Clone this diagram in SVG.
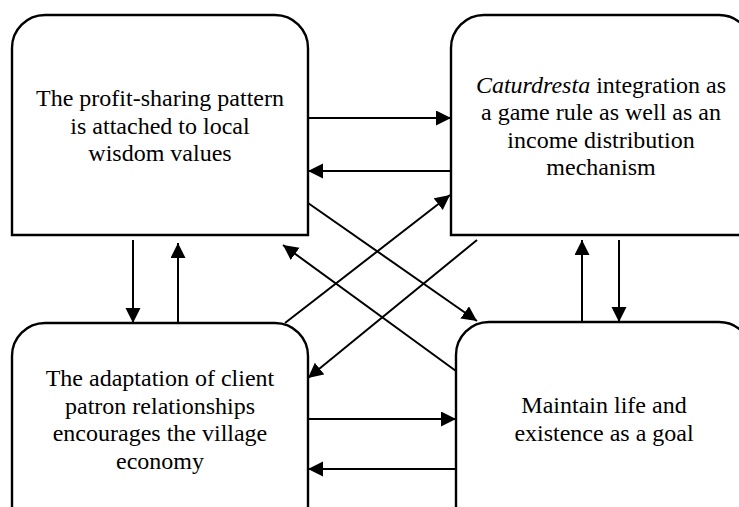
<svg xmlns="http://www.w3.org/2000/svg" width="739" height="507" viewBox="0 0 739 507">
<style>
.box{fill:#fff;stroke:#000;stroke-width:2.4}
.lbl{font-family:'Liberation Serif','Times New Roman',Times,'DejaVu Serif',serif;font-size:24px;fill:#000;text-anchor:middle}
.con line{stroke:#000;stroke-width:2;marker-end:url(#ah)}
</style>
<defs>
<marker id="ah" markerUnits="userSpaceOnUse" markerWidth="16" markerHeight="16" refX="15" refY="7.5" orient="auto">
<path d="M0,0 L15,7.5 L0,15 Z" fill="#000"/>
</marker>
</defs>
<rect width="739" height="507" fill="#fff"/>
<g id="n1">
<path class="box" d="M12,235 V48 A33,33 0 0 1 45,15 H275 A33,33 0 0 1 308,48 V235 Z"/>
<text class="lbl" font-family="Liberation Serif, serif"><tspan x="160" y="106">The profit-sharing pattern</tspan><tspan x="160" y="133.5">is attached to local</tspan><tspan x="160" y="161">wisdom values</tspan></text>
</g>
<g id="n2">
<path class="box" d="M451,235 V48 A33,33 0 0 1 484,15 H719 A33,33 0 0 1 752,48 V235 Z"/>
<text class="lbl" font-family="Liberation Serif, serif"><tspan x="601" y="92.5"><tspan font-style="italic">Caturdresta</tspan> integration as</tspan><tspan x="601" y="120">a game rule as well as an</tspan><tspan x="601" y="147.5">income distribution</tspan><tspan x="601" y="175">mechanism</tspan></text>
</g>
<g id="n3">
<path class="box" d="M12,520 V356 A33,33 0 0 1 45,323 H275 A33,33 0 0 1 308,356 V520"/>
<text class="lbl" font-family="Liberation Serif, serif"><tspan x="160" y="386">The adaptation of client</tspan><tspan x="160" y="413.5">patron relationships</tspan><tspan x="160" y="441">encourages the village</tspan><tspan x="160" y="468.5">economy</tspan></text>
</g>
<g id="n4">
<path class="box" d="M456,520 V355 A33,33 0 0 1 489,322 H719 A33,33 0 0 1 752,355 V520"/>
<text class="lbl" font-family="Liberation Serif, serif"><tspan x="604" y="412.5">Maintain life and</tspan><tspan x="604" y="440.5">existence as a goal</tspan></text>
</g>
<g id="connectors" class="con">
<line x1="308" y1="118" x2="451" y2="118"/>
<line x1="451" y1="171" x2="308" y2="171"/>
<line x1="308" y1="203" x2="477" y2="321"/>
<line x1="456" y1="371" x2="283" y2="245"/>
<line x1="285" y1="323" x2="450" y2="195"/>
<line x1="477" y1="240" x2="308" y2="378"/>
<line x1="133" y1="240" x2="133" y2="323"/>
<line x1="178" y1="323" x2="178" y2="243"/>
<line x1="582" y1="322" x2="582" y2="240"/>
<line x1="619" y1="240" x2="619" y2="322"/>
<line x1="308" y1="419" x2="456" y2="419"/>
<line x1="456" y1="469" x2="308" y2="469"/>
</g>
</svg>
